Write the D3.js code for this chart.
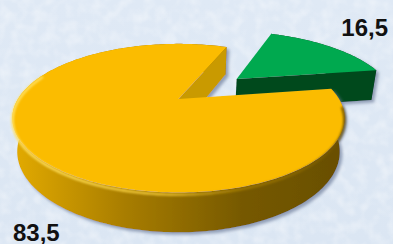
<!DOCTYPE html>
<html>
<head>
<meta charset="utf-8">
<script src="https://cdn.jsdelivr.net/npm/d3@7"></script>
<style>
  html, body { margin: 0; padding: 0; background: #dde8f5; }
  svg { display: block; }
</style>
</head>
<body>
<div id="chart"></div>
<script>
// slice values
const labels = ["83,5", "16,5"];
const values = [83.5, 16.5];

// look of each slice
const style = {
  "83,5": { top: "#fbbc00", face: "#c99a00", side: ["#e2aa00", "#a87d00", "#765900", "#6a5000"], explode: 0 },
  "16,5": { top: "#00a94f", face: "#00481f", side: ["#00461f", "#00461f", "#00461f", "#00461f"], explode: 0.5 }
};

const W = 393, H = 244;

// camera for the tilted pie (plane radius = 1)
const cam = { cx: 178.5, cy: 99, F: 561, D: 3.494, tilt: 25.6 * Math.PI / 180, depth: 0.23 };
const cosT = Math.cos(cam.tilt), sinT = Math.sin(cam.tilt);

function project(X, Z, Y) {
  const d = cam.D + Z * cosT - Y * sinT;
  const up = Y * cosT + Z * sinT;
  return [cam.cx + cam.F * X / d, cam.cy - cam.F * up / d];
}

const svg = d3.select("#chart").append("svg")
  .attr("width", W).attr("height", H);

const defs = svg.append("defs");

// background with a faint mottled texture
const bgGrad = defs.append("linearGradient").attr("id", "bg")
  .attr("x1", 0).attr("y1", 0).attr("x2", 0).attr("y2", 1);
bgGrad.append("stop").attr("offset", 0).attr("stop-color", "#dfe9f5");
bgGrad.append("stop").attr("offset", 1).attr("stop-color", "#dbe6f3");

const tex = defs.append("filter").attr("id", "tex")
  .attr("x", 0).attr("y", 0).attr("width", 1).attr("height", 1);
tex.append("feTurbulence").attr("type", "fractalNoise")
  .attr("baseFrequency", 0.09).attr("numOctaves", 2).attr("seed", 3).attr("result", "n");
tex.append("feColorMatrix").attr("in", "n").attr("type", "matrix")
  .attr("values", "0 0 0 0 1  0 0 0 0 1  0 0 0 0 1  1.4 0 0 0 -0.55");

const shadow = defs.append("filter").attr("id", "shadow")
  .attr("x", -0.1).attr("y", -0.1).attr("width", 1.3).attr("height", 1.3);
shadow.append("feDropShadow").attr("dx", 2.5).attr("dy", 2.5).attr("stdDeviation", 1.8)
  .attr("flood-color", "#6f7f9c").attr("flood-opacity", 0.7);

const soft = defs.append("filter").attr("id", "soft");
soft.append("feGaussianBlur").attr("stdDeviation", 0.9);

svg.append("rect").attr("width", W).attr("height", H).attr("fill", "url(#bg)");
svg.append("rect").attr("width", W).attr("height", H).attr("filter", "url(#tex)").attr("opacity", 0.55);

const pie = d3.pie().sort(null)
  .startAngle(81.2 * Math.PI / 180)
  .endAngle(81.2 * Math.PI / 180 + 2 * Math.PI);

const slices = pie(values).map((d, i) => {
  const s = style[labels[i]];
  const mid = (d.startAngle + d.endAngle) / 2;
  return { ...d, label: labels[i], s: s, ox: s.explode * Math.sin(mid), oz: s.explode * Math.cos(mid) };
});

const line = d3.line();

function arcPts(sl, a0, a1, Y) {
  const n = Math.max(8, Math.ceil(Math.abs(a1 - a0) / 0.02));
  return d3.range(n + 1).map(k => {
    const a = a0 + (a1 - a0) * k / n;
    return project(sl.ox + Math.sin(a), sl.oz + Math.cos(a), Y);
  });
}

function faceVisible(sl, a, isStart) {
  // outward normal of a radial face, in the X/Z plane
  const nx = isStart ? -Math.cos(a) : Math.cos(a);
  const nz = isStart ? Math.sin(a) : -Math.sin(a);
  const camZ = -cam.D * cosT;
  return (0 - sl.ox) * nx + (camZ - sl.oz) * nz > 0;
}

// back slice first so the front one covers it
const order = slices.slice().sort((a, b) => b.oz - a.oz);

order.forEach((sl, idx) => {
  const g = svg.append("g").attr("filter", "url(#shadow)");
  const h = -cam.depth;

  // side gradient across x
  const gid = "side" + idx;
  const sg = defs.append("linearGradient").attr("id", gid)
    .attr("gradientUnits", "userSpaceOnUse")
    .attr("x1", 15).attr("y1", 0).attr("x2", 330).attr("y2", 0);
  sl.s.side.forEach((c, k) => sg.append("stop").attr("offset", [0, 0.35, 0.72, 1][k]).attr("stop-color", c));

  // outer side
  const topArc = arcPts(sl, sl.startAngle, sl.endAngle, 0);
  const botArc = arcPts(sl, sl.startAngle, sl.endAngle, h).reverse();
  g.append("path")
    .attr("d", line(topArc.concat(botArc)) + "Z")
    .attr("fill", `url(#${gid})`);

  // radial faces
  [[sl.startAngle, true], [sl.endAngle, false]].forEach(([a, isStart]) => {
    if (!faceVisible(sl, a, isStart)) return;
    const rx = sl.ox + Math.sin(a), rz = sl.oz + Math.cos(a);
    const pts = [project(sl.ox, sl.oz, 0), project(rx, rz, 0), project(rx, rz, h), project(sl.ox, sl.oz, h)];
    g.append("path").attr("d", line(pts) + "Z").attr("fill", sl.s.face);
  });

  // top face
  const topPts = [project(sl.ox, sl.oz, 0)].concat(topArc);
  g.append("path").attr("d", line(topPts) + "Z").attr("fill", sl.s.top);

  // bevel light on the front rim of the big slice
  if (sl.s.explode === 0) {
    const bid = "bevel" + idx;
    const bg = defs.append("linearGradient").attr("id", bid)
      .attr("gradientUnits", "userSpaceOnUse")
      .attr("x1", 10).attr("y1", 0).attr("x2", 345).attr("y2", 0);
    bg.append("stop").attr("offset", 0).attr("stop-color", "#ffe36a").attr("stop-opacity", 0.95);
    bg.append("stop").attr("offset", 0.45).attr("stop-color", "#ffd43a").attr("stop-opacity", 0.8);
    bg.append("stop").attr("offset", 0.7).attr("stop-color", "#b58800").attr("stop-opacity", 0.6);
    bg.append("stop").attr("offset", 1).attr("stop-color", "#6a5000").attr("stop-opacity", 0.9);
    const a0 = Math.max(sl.startAngle, 95 * Math.PI / 180);
    const a1 = 292 * Math.PI / 180;
    svg.append("path")
      .attr("d", line(arcPts(sl, a0, a1, -0.012)))
      .attr("fill", "none")
      .attr("stroke", `url(#${bid})`)
      .attr("stroke-width", 2.6)
      .attr("filter", "url(#soft)");
  }
});

// value labels
const labelPos = { "16,5": [388, 36, "end"], "83,5": [13, 241, "start"] };
svg.selectAll(".val")
  .data(labels)
  .join("text")
  .attr("class", "val")
  .attr("x", d => labelPos[d][0])
  .attr("y", d => labelPos[d][1])
  .attr("text-anchor", d => labelPos[d][2])
  .attr("font-family", "Liberation Sans, Arial, sans-serif")
  .attr("font-weight", "bold")
  .attr("font-size", 24)
  .attr("fill", "#111")
  .text(d => d);
</script>
</body>
</html>
